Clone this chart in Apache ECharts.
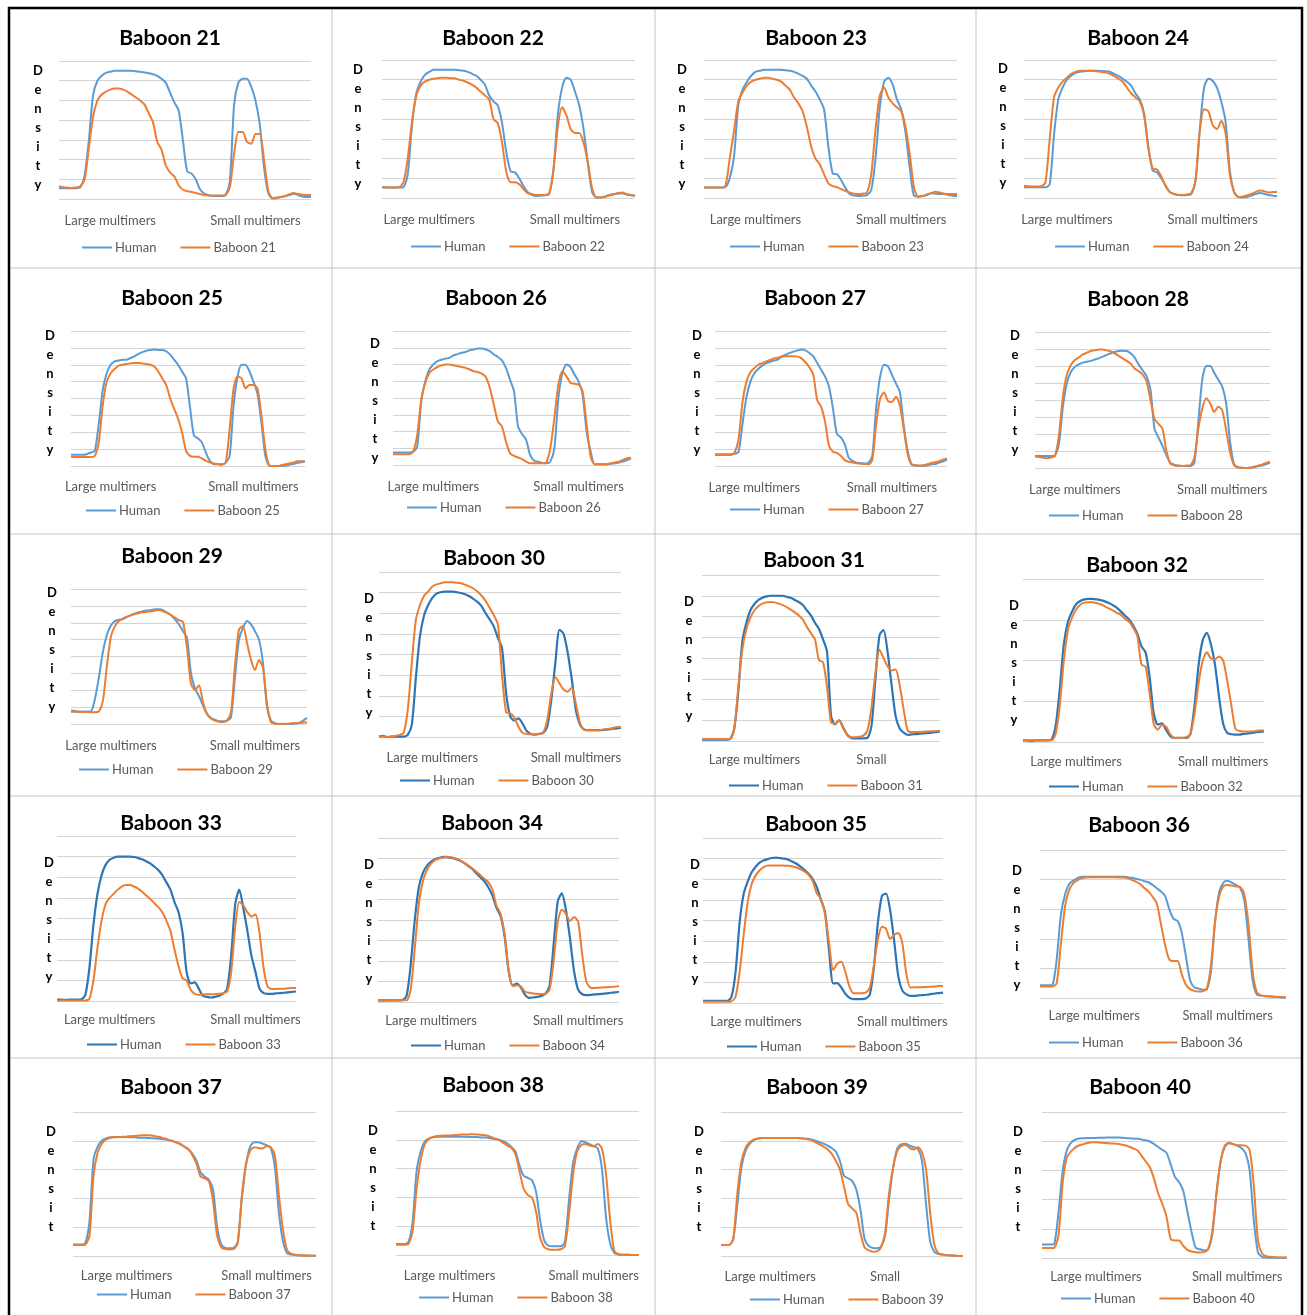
<!DOCTYPE html>
<html>
<head>
<meta charset="utf-8">
<title>Human vs baboon multimer density</title>
<script src="https://cdn.jsdelivr.net/npm/echarts@6.0.0/dist/echarts.min.js"></script>
<style>
  html, body { margin: 0; padding: 0; background: #fff; }
  #chart { width: 1307px; height: 1315px; }
</style>
</head>
<body>
<div id="chart"></div>
<script>
// density traces, 60 samples across each panel, in units of one gridline step
const human21 = [0.55,0.55,0.55,0.55,0.55,0.6,1.2,3.0,5.3,6.0, 6.25,6.4,6.45,6.5,6.5,6.5,6.5,6.5,6.48,6.45, 6.42,6.38,6.33,6.25,6.1,5.9,5.4,4.9,4.5,3.0, 1.4,1.3,1.0,0.5,0.28,0.2,0.15,0.15,0.15,0.2, 0.9,4.8,5.9,6.1,6.1,5.7,5.0,3.8,1.6,0.3, 0.02,0.05,0.1,0.15,0.2,0.27,0.2,0.13,0.1,0.1];
const baboon21 = [0.65,0.6,0.58,0.56,0.58,0.65,1.0,2.6,4.2,5.0, 5.3,5.45,5.55,5.6,5.6,5.55,5.45,5.3,5.15,5.0, 4.8,4.35,3.9,2.9,2.5,1.7,1.35,1.15,0.7,0.47, 0.4,0.36,0.3,0.25,0.2,0.18,0.18,0.18,0.18,0.2, 0.6,2.3,3.4,3.4,2.9,2.8,3.3,3.3,2.0,0.4, 0.05,0.08,0.1,0.15,0.25,0.3,0.25,0.22,0.2,0.2];
const human22 = [0.53,0.53,0.53,0.53,0.53,0.55,1.2,3.7,5.3,5.9, 6.25,6.4,6.5,6.5,6.5,6.5,6.5,6.5,6.48,6.45, 6.4,6.3,6.2,6.0,5.75,5.2,4.9,4.7,3.8,2.3, 1.35,1.3,1.0,0.6,0.3,0.15,0.1,0.12,0.14,0.2, 1.5,4.2,5.6,6.1,6.0,5.4,4.7,3.5,1.8,0.3, 0.03,0.03,0.08,0.15,0.2,0.22,0.24,0.18,0.14,0.1];
const baboon22 = [0.54,0.54,0.53,0.53,0.55,0.8,2.0,3.9,5.2,5.7, 5.9,6.0,6.05,6.08,6.1,6.1,6.08,6.07,6.0,5.95, 5.86,5.75,5.6,5.4,5.2,5.0,4.0,3.8,2.8,1.3, 0.8,0.8,0.7,0.45,0.25,0.2,0.15,0.15,0.15,0.25, 1.4,3.6,4.6,4.2,3.5,3.3,3.3,2.8,1.8,0.5, 0.02,0.02,0.05,0.12,0.18,0.25,0.28,0.2,0.15,0.12];
const human23 = [0.53,0.53,0.53,0.53,0.53,0.55,1.0,2.1,4.7,5.5, 5.9,6.2,6.4,6.45,6.5,6.5,6.5,6.5,6.5,6.48, 6.45,6.4,6.3,6.2,6.05,5.7,5.4,5.0,4.5,2.6, 1.25,1.2,0.9,0.5,0.2,0.12,0.1,0.12,0.15,0.4, 2.0,4.6,5.9,6.1,5.75,5.0,4.5,3.3,1.5,0.1, 0.08,0.1,0.18,0.24,0.22,0.2,0.2,0.15,0.12,0.1];
const baboon23 = [0.53,0.53,0.53,0.53,0.53,0.6,2.0,3.4,4.9,5.35, 5.7,5.9,6.0,6.05,6.1,6.1,6.05,6.0,5.9,5.7, 5.5,5.1,4.8,4.4,3.6,2.6,2.0,1.7,1.2,0.75, 0.6,0.55,0.45,0.35,0.28,0.22,0.2,0.22,0.27,1.2, 3.5,5.2,5.6,5.1,4.8,4.6,4.4,3.6,2.2,0.5, 0.05,0.1,0.15,0.25,0.32,0.28,0.22,0.2,0.2,0.2];
const human24 = [0.54,0.54,0.54,0.54,0.54,0.54,0.7,3.2,5.0,5.6, 6.0,6.2,6.35,6.4,6.43,6.45,6.45,6.45,6.44,6.43, 6.4,6.3,6.2,6.05,5.9,5.7,5.3,5.0,4.3,2.6, 1.4,1.3,1.0,0.65,0.3,0.2,0.15,0.14,0.15,0.2, 0.9,3.5,5.6,6.05,5.95,5.6,4.9,3.9,1.4,0.3, 0.05,0.03,0.05,0.12,0.2,0.25,0.22,0.15,0.12,0.1];
const baboon24 = [0.62,0.6,0.58,0.58,0.6,0.8,3.0,5.1,5.6,5.9, 6.1,6.3,6.4,6.45,6.45,6.45,6.45,6.43,6.4,6.36, 6.3,6.2,6.05,5.9,5.6,5.3,5.1,4.9,4.2,2.5, 1.5,1.45,1.1,0.6,0.3,0.2,0.15,0.15,0.18,0.24, 0.9,3.4,4.5,4.4,3.7,3.5,3.9,3.3,1.2,0.3, 0.05,0.08,0.14,0.2,0.3,0.38,0.35,0.28,0.3,0.31];
const human25 = [0.67,0.67,0.67,0.67,0.7,0.8,0.9,2.5,4.5,5.5, 6.0,6.2,6.25,6.3,6.3,6.4,6.5,6.65,6.75,6.83, 6.88,6.9,6.88,6.87,6.8,6.6,6.3,6.0,5.6,5.2, 3.5,1.8,1.65,1.4,0.8,0.3,0.12,0.1,0.08,0.2, 0.6,3.6,5.3,6.0,6.0,5.6,5.0,4.3,2.6,0.6, 0.02,0.0,0.0,0.0,0.03,0.08,0.12,0.18,0.22,0.28];
const baboon25 = [0.55,0.53,0.53,0.53,0.53,0.53,0.6,1.4,3.6,5.0, 5.5,5.75,5.95,6.0,6.05,6.08,6.1,6.1,6.08,6.05, 6.0,5.9,5.6,5.2,4.8,4.0,3.4,2.8,2.0,0.9, 0.6,0.55,0.55,0.45,0.3,0.22,0.15,0.12,0.1,0.2, 2.2,4.6,5.3,5.2,4.6,4.8,4.8,4.6,3.0,1.0, 0.04,0.0,0.0,0.04,0.1,0.15,0.2,0.28,0.28,0.28];
const human26 = [0.74,0.74,0.74,0.74,0.74,0.8,1.1,3.8,5.0,5.7, 6.0,6.2,6.28,6.35,6.4,6.55,6.62,6.7,6.75,6.85, 6.9,6.95,6.95,6.9,6.8,6.6,6.45,6.25,5.8,5.1, 4.4,2.3,1.85,1.5,0.6,0.25,0.2,0.12,0.1,0.2, 1.0,4.0,5.5,6.0,5.85,5.4,5.0,4.2,2.0,0.8, 0.04,0.04,0.04,0.05,0.08,0.1,0.15,0.2,0.3,0.4];
const baboon26 = [0.64,0.64,0.64,0.64,0.64,0.8,1.8,3.9,4.9,5.5, 5.7,5.85,5.95,6.0,6.0,5.95,5.9,5.85,5.8,5.7, 5.6,5.55,5.45,5.25,4.6,3.6,2.6,2.3,1.4,0.7, 0.55,0.45,0.35,0.2,0.1,0.1,0.1,0.1,0.15,1.0, 2.8,4.8,5.6,5.3,4.9,4.85,4.8,4.4,2.4,0.5, 0.04,0.04,0.04,0.05,0.1,0.15,0.2,0.3,0.4,0.44];
const human27 = [0.7,0.7,0.7,0.7,0.7,0.72,0.85,2.5,4.1,5.0, 5.5,5.75,5.95,6.1,6.18,6.25,6.3,6.5,6.6,6.7, 6.78,6.85,6.9,6.85,6.7,6.5,6.1,5.7,5.3,4.7, 3.4,1.9,1.7,1.3,0.5,0.3,0.2,0.18,0.15,0.2, 0.6,3.5,5.3,6.0,5.9,5.4,4.9,4.4,2.4,0.9, 0.1,0.05,0.02,0.02,0.05,0.1,0.12,0.2,0.28,0.36];
const baboon27 = [0.65,0.65,0.65,0.65,0.65,0.8,1.6,3.8,5.0,5.55, 5.8,6.0,6.1,6.2,6.28,6.38,6.42,6.48,6.5,6.5, 6.5,6.48,6.38,6.15,5.85,5.4,3.9,3.5,2.6,1.2, 0.85,0.78,0.6,0.35,0.25,0.2,0.16,0.14,0.12,0.1, 0.35,2.5,4.0,4.35,3.85,3.8,4.1,3.6,2.2,0.7, 0.08,0.02,0.02,0.04,0.1,0.18,0.22,0.28,0.38,0.45];
const human28 = [0.71,0.71,0.71,0.71,0.71,0.75,1.4,3.6,5.0,5.65, 5.95,6.1,6.2,6.25,6.3,6.38,6.45,6.55,6.65,6.75, 6.82,6.88,6.9,6.88,6.75,6.5,6.1,5.75,5.4,4.6, 2.3,1.8,1.3,0.75,0.3,0.2,0.15,0.12,0.12,0.12, 0.3,2.7,5.2,6.0,6.0,5.6,5.2,4.8,3.8,1.5, 0.2,0.05,0.02,0.0,0.02,0.05,0.1,0.15,0.22,0.3];
const baboon28 = [0.67,0.65,0.6,0.58,0.62,0.7,1.9,4.2,5.5,6.05, 6.35,6.5,6.68,6.78,6.88,6.92,6.97,6.97,6.92,6.85, 6.75,6.6,6.45,6.3,6.15,5.85,5.7,5.5,5.1,4.0, 2.9,2.6,2.3,1.0,0.25,0.15,0.12,0.12,0.14,0.16, 0.6,2.3,3.5,4.1,3.8,3.3,3.6,3.4,2.2,0.9, 0.15,0.02,0.0,0.0,0.02,0.08,0.14,0.2,0.3,0.37];
const human29 = [0.73,0.73,0.73,0.73,0.73,0.75,1.5,2.8,4.3,5.3, 5.85,6.1,6.18,6.22,6.35,6.45,6.55,6.62,6.68,6.72, 6.75,6.8,6.8,6.75,6.6,6.45,6.2,5.9,5.5,5.1, 3.0,2.1,1.65,1.1,0.6,0.35,0.25,0.16,0.16,0.2, 0.4,2.8,5.0,5.7,6.1,5.9,5.5,5.0,3.6,1.0, 0.2,0.05,0.0,0.0,0.0,0.0,0.03,0.06,0.2,0.36];
const baboon29 = [0.8,0.78,0.72,0.72,0.72,0.7,0.7,0.75,1.4,3.5, 5.2,5.8,6.1,6.25,6.35,6.45,6.52,6.58,6.62,6.65, 6.68,6.72,6.75,6.68,6.6,6.45,6.3,6.15,6.05,4.5, 2.4,2.0,2.3,1.3,0.6,0.32,0.2,0.13,0.12,0.2, 0.7,3.5,5.6,5.8,4.8,3.8,3.2,3.8,3.3,1.2, 0.1,0.02,0.0,0.02,0.02,0.04,0.06,0.06,0.08,0.1];
const human30 = [0.02,0.05,0.0,0.02,0.02,0.02,0.02,0.1,0.6,2.9, 4.9,5.9,6.4,6.75,6.95,7.02,7.05,7.05,7.05,7.02, 6.98,6.92,6.82,6.7,6.55,6.35,6.0,5.7,5.35,4.8, 4.3,2.1,1.0,0.8,0.9,0.65,0.3,0.15,0.12,0.15, 0.2,0.5,1.8,3.6,5.2,5.0,4.1,2.8,1.3,0.6, 0.37,0.33,0.33,0.33,0.33,0.35,0.37,0.4,0.42,0.45];
const baboon30 = [0.0,0.02,0.0,0.02,0.05,0.1,0.2,1.3,3.6,5.7, 6.4,6.85,7.05,7.3,7.4,7.45,7.5,7.5,7.5,7.48, 7.45,7.38,7.3,7.2,7.05,6.85,6.6,6.25,5.9,5.45, 3.0,1.2,1.15,0.95,0.5,0.2,0.14,0.13,0.13,0.15, 0.2,0.8,2.1,2.9,2.6,2.3,2.2,2.4,1.6,0.7, 0.35,0.33,0.33,0.33,0.33,0.38,0.4,0.44,0.48,0.5];
const human31 = [0.07,0.07,0.07,0.07,0.07,0.07,0.07,0.1,0.6,2.4, 4.8,5.7,6.3,6.6,6.8,6.9,6.97,7.0,7.0,7.0, 7.0,6.95,6.9,6.8,6.7,6.55,6.3,6.05,5.7,5.4, 4.9,4.3,1.2,0.8,1.0,0.65,0.3,0.15,0.13,0.13, 0.13,0.15,0.7,3.0,5.1,5.35,4.3,2.7,1.2,0.6, 0.4,0.3,0.32,0.33,0.35,0.37,0.38,0.4,0.43,0.46];
const baboon31 = [0.1,0.1,0.1,0.1,0.1,0.1,0.1,0.1,0.6,2.6, 4.4,5.4,5.95,6.3,6.5,6.62,6.68,6.7,6.68,6.62, 6.55,6.45,6.33,6.2,6.05,5.85,5.5,5.2,4.9,3.9, 3.8,2.6,0.9,0.84,1.0,0.6,0.3,0.18,0.18,0.2, 0.26,0.5,1.6,3.3,4.4,4.0,3.6,3.4,3.45,2.7, 1.5,0.5,0.43,0.43,0.44,0.45,0.46,0.47,0.48,0.5];
const human32 = [0.04,0.04,0.03,0.04,0.04,0.04,0.04,0.06,0.4,1.3, 2.4,2.95,3.2,3.38,3.46,3.5,3.51,3.51,3.5,3.48, 3.45,3.41,3.36,3.29,3.2,3.1,3.0,2.85,2.65,2.35, 2.2,1.6,0.7,0.43,0.46,0.3,0.15,0.1,0.1,0.1, 0.1,0.2,0.9,1.9,2.5,2.68,2.4,1.9,1.1,0.45, 0.22,0.19,0.18,0.18,0.2,0.21,0.22,0.24,0.25,0.26];
const baboon32 = [0.04,0.04,0.04,0.04,0.04,0.04,0.04,0.04,0.2,0.9, 2.0,2.75,3.05,3.25,3.37,3.42,3.43,3.43,3.41,3.38, 3.33,3.28,3.23,3.17,3.12,3.02,2.95,2.8,2.6,1.9, 1.85,1.2,0.45,0.3,0.42,0.38,0.2,0.1,0.1,0.1, 0.12,0.2,0.7,1.45,2.0,2.2,2.05,2.03,2.1,2.0, 1.5,0.9,0.32,0.27,0.26,0.26,0.26,0.27,0.28,0.28];
const human33 = [0.07,0.07,0.05,0.07,0.07,0.07,0.08,0.3,1.6,3.7, 5.2,6.1,6.6,6.85,6.95,7.0,7.0,7.0,7.0,6.98, 6.93,6.87,6.78,6.67,6.52,6.35,6.1,5.75,5.4,4.8, 4.3,3.3,1.4,0.85,0.9,0.6,0.25,0.2,0.17,0.2, 0.25,0.35,0.6,2.2,4.7,5.4,4.5,3.4,2.2,1.4, 0.6,0.38,0.35,0.35,0.37,0.38,0.4,0.42,0.44,0.46];
const baboon33 = [0.03,0.03,0.03,0.03,0.03,0.03,0.03,0.03,0.1,1.0, 2.6,3.9,4.7,5.0,5.2,5.4,5.55,5.62,5.62,5.55, 5.45,5.3,5.12,4.95,4.75,4.55,4.3,3.9,3.4,2.5, 1.7,1.1,1.0,0.55,0.35,0.3,0.32,0.33,0.33,0.33, 0.35,0.38,0.45,1.4,3.6,4.8,4.65,4.3,4.1,4.2, 3.3,1.6,0.7,0.58,0.58,0.6,0.6,0.62,0.63,0.63];
const human34 = [0.08,0.08,0.08,0.08,0.08,0.08,0.1,0.3,1.8,4.0, 5.6,6.3,6.65,6.85,6.96,7.03,7.08,7.07,7.03,6.98, 6.9,6.8,6.65,6.5,6.3,6.1,5.9,5.6,5.2,4.6, 4.2,3.2,1.5,0.8,0.9,0.7,0.35,0.2,0.22,0.25, 0.3,0.4,0.8,2.8,4.9,5.3,4.5,3.1,1.5,0.6, 0.38,0.34,0.35,0.37,0.38,0.4,0.42,0.45,0.47,0.5];
const baboon34 = [0.08,0.06,0.08,0.08,0.08,0.08,0.08,0.08,0.6,2.6, 4.8,5.9,6.45,6.75,6.92,7.0,7.05,7.08,7.06,7.0, 6.92,6.8,6.68,6.53,6.38,6.2,6.02,5.85,5.5,4.7, 4.3,3.3,1.5,0.78,0.82,0.75,0.5,0.45,0.42,0.4, 0.39,0.4,0.6,2.0,3.9,4.5,4.3,3.95,4.15,3.9, 2.3,1.0,0.7,0.68,0.7,0.71,0.72,0.73,0.75,0.78];
const human35 = [0.1,0.1,0.1,0.1,0.1,0.1,0.1,0.3,1.5,3.9, 5.3,5.9,6.35,6.62,6.82,6.92,6.98,7.03,7.05,7.02, 7.0,6.95,6.85,6.75,6.6,6.45,6.25,6.0,5.6,5.0, 4.4,2.5,0.95,0.96,0.75,0.45,0.25,0.19,0.19,0.19, 0.22,0.4,1.7,3.9,5.2,5.3,4.5,3.0,1.3,0.6, 0.42,0.35,0.35,0.37,0.38,0.4,0.43,0.46,0.48,0.5];
const baboon35 = [0.06,0.06,0.06,0.06,0.06,0.06,0.06,0.08,0.3,1.5, 3.3,4.9,5.8,6.2,6.45,6.6,6.67,6.67,6.67,6.67, 6.66,6.65,6.62,6.57,6.48,6.37,6.2,5.9,5.3,5.05, 4.3,2.9,1.6,1.9,2.0,1.5,0.8,0.47,0.47,0.47, 0.5,0.75,1.8,3.1,3.7,3.6,3.1,3.3,3.4,2.9, 1.4,0.75,0.76,0.76,0.77,0.78,0.79,0.8,0.82,0.83];
const human36 = [0.43,0.43,0.43,0.45,1.3,2.8,3.5,3.85,3.97,4.05, 4.1,4.1,4.1,4.1,4.1,4.1,4.1,4.1,4.1,4.1, 4.1,4.08,4.06,4.03,4.0,3.95,3.91,3.82,3.71,3.6, 3.45,3.0,2.68,2.6,2.2,1.4,0.6,0.36,0.32,0.28, 0.3,0.9,2.6,3.6,3.9,3.96,3.9,3.82,3.72,3.3, 2.0,0.6,0.12,0.08,0.06,0.05,0.04,0.03,0.02,0.02];
const baboon36 = [0.39,0.39,0.39,0.39,0.5,1.8,3.1,3.65,3.88,3.98, 4.04,4.07,4.08,4.08,4.08,4.08,4.08,4.08,4.08,4.07, 4.07,4.05,3.99,3.93,3.85,3.72,3.6,3.42,3.2,2.5, 1.8,1.3,1.25,1.25,0.8,0.45,0.3,0.24,0.22,0.23, 0.3,1.1,2.6,3.45,3.78,3.82,3.8,3.77,3.75,3.5, 2.5,0.9,0.2,0.09,0.07,0.06,0.05,0.04,0.03,0.02];
const human37 = [0.4,0.4,0.4,0.45,1.2,3.38,3.8,4.0,4.08,4.12, 4.13,4.13,4.13,4.13,4.12,4.12,4.11,4.11,4.1,4.09, 4.08,4.07,4.05,4.03,4.0,3.95,3.9,3.8,3.7,3.55, 3.3,2.9,2.75,2.65,2.3,1.0,0.4,0.28,0.27,0.28, 0.5,2.0,3.15,3.8,3.95,3.95,3.9,3.85,3.75,3.1, 1.5,0.5,0.1,0.05,0.03,0.02,0.02,0.01,0.01,0.01];
const baboon37 = [0.38,0.38,0.38,0.4,0.7,2.8,3.6,3.9,4.05,4.1, 4.12,4.13,4.14,4.15,4.16,4.17,4.18,4.19,4.19,4.18, 4.16,4.13,4.09,4.05,4.0,3.95,3.88,3.8,3.72,3.5, 3.2,2.75,2.7,2.6,1.9,0.7,0.3,0.24,0.23,0.24, 0.45,2.1,3.2,3.65,3.78,3.75,3.73,3.82,3.78,3.5, 2.1,0.9,0.2,0.08,0.04,0.03,0.02,0.02,0.01,0.01];
const human38 = [0.38,0.38,0.38,0.45,1.1,2.9,3.6,3.95,4.05,4.09, 4.11,4.11,4.11,4.11,4.11,4.11,4.11,4.11,4.1,4.1, 4.09,4.08,4.08,4.05,4.03,4.0,3.95,3.88,3.75,3.6, 3.1,2.75,2.68,2.6,2.2,1.2,0.5,0.32,0.3,0.3, 0.3,0.45,1.9,3.2,3.7,3.95,3.92,3.85,3.78,3.7, 3.0,1.3,0.4,0.07,0.02,0.01,0.01,0.0,0.0,0.0];
const baboon38 = [0.36,0.36,0.36,0.38,0.8,2.3,3.3,3.85,4.03,4.1, 4.13,4.14,4.15,4.15,4.16,4.17,4.18,4.18,4.19,4.19, 4.18,4.17,4.15,4.1,4.05,4.0,3.9,3.8,3.72,3.5, 2.9,2.3,2.08,2.0,1.5,0.6,0.27,0.2,0.18,0.18, 0.2,0.3,1.4,2.8,3.6,3.82,3.85,3.8,3.78,3.85, 3.7,2.8,1.2,0.15,0.03,0.01,0.01,0.0,0.0,0.0];
const human39 = [0.38,0.38,0.38,0.6,1.8,3.1,3.65,3.9,4.02,4.08, 4.1,4.1,4.1,4.1,4.1,4.1,4.1,4.1,4.1,4.09, 4.08,4.07,4.05,4.0,3.95,3.9,3.83,3.75,3.62,3.3, 2.78,2.7,2.6,2.3,1.6,0.6,0.35,0.28,0.27,0.33, 0.7,2.0,3.1,3.75,3.88,3.9,3.83,3.78,3.72,3.3, 1.8,0.5,0.15,0.07,0.05,0.03,0.02,0.01,0.0,0.0];
const baboon39 = [0.38,0.38,0.38,0.6,2.2,3.3,3.75,3.95,4.04,4.08, 4.1,4.1,4.1,4.1,4.1,4.1,4.1,4.1,4.1,4.1, 4.08,4.05,4.02,3.95,3.88,3.8,3.7,3.55,3.3,3.0, 2.4,1.8,1.65,1.5,0.8,0.3,0.2,0.15,0.16,0.3, 0.8,2.2,3.1,3.65,3.82,3.85,3.75,3.7,3.78,3.6, 3.0,1.5,0.4,0.09,0.05,0.03,0.02,0.01,0.0,0.0];
const human40 = [0.46,0.46,0.46,0.5,1.6,3.0,3.7,3.95,4.05,4.09, 4.1,4.11,4.11,4.11,4.12,4.12,4.13,4.13,4.13,4.12, 4.11,4.1,4.09,4.08,4.06,4.03,3.99,3.9,3.8,3.7, 3.6,3.2,2.78,2.6,2.3,1.6,0.9,0.35,0.3,0.26, 0.3,0.8,2.2,3.3,3.8,3.93,3.9,3.85,3.77,3.6, 3.0,1.3,0.2,0.04,0.02,0.01,0.01,0.01,0.01,0.01];
const baboon40 = [0.34,0.34,0.34,0.36,0.8,2.6,3.45,3.65,3.78,3.86, 3.9,3.94,3.96,3.96,3.95,3.94,3.93,3.92,3.91,3.89, 3.86,3.81,3.75,3.68,3.5,3.3,3.1,2.7,2.2,1.85, 1.4,0.65,0.6,0.6,0.42,0.28,0.22,0.2,0.19,0.2, 0.3,0.9,2.2,3.3,3.85,3.95,3.9,3.86,3.86,3.85, 3.7,2.5,0.6,0.15,0.06,0.04,0.03,0.02,0.02,0.02];

const panelIds = [21,22,23,24,25,26,27,28,29,30,31,32,33,34,35,36,37,38,39,40];
const humanSeries = [human21,human22,human23,human24,human25,human26,human27,human28,human29,human30,
                     human31,human32,human33,human34,human35,human36,human37,human38,human39,human40];
const baboonSeries = [baboon21,baboon22,baboon23,baboon24,baboon25,baboon26,baboon27,baboon28,baboon29,baboon30,
                      baboon31,baboon32,baboon33,baboon34,baboon35,baboon36,baboon37,baboon38,baboon39,baboon40];
// number of gridline steps on each y axis
const gridSteps = [7,7,7,7, 8,8,8,8, 8,8,8,4, 8,8,8,5, 5,5,5,5];
// x tick labels and the sample index where each one sits
const tickLabels = ['Large multimers', 'Small multimers'];
const tickLabelsShort = ['Large multimers', 'Small'];
const tickIndex = [[12,46],[11,45],[12,46],[10,44], [10,46],[10,46],[10,45],[10,47],
                   [10,46],[13,48],[13,42],[13,49], [13,49],[13,49],[13,49],[13,45],
                   [13,47],[13,48],[12,40],[13,47]];
const shortLabelPanels = [31, 39];
const sampleCount = 60;

// page layout (px): plot box [left, top, right, bottom], title centre, "Density" x / first letter y,
// legend start, label offset under the axis
const layout = {
  21: { plot: [59,61,311,199],    title: [170,37],   dens: [38,71],    legend: [82,248],    gap: 15 },
  22: { plot: [382,60,635,198],   title: [493,37],   dens: [358,70],   legend: [411,247],   gap: 15.5 },
  23: { plot: [704,60,957,198],   title: [816,37],   dens: [682,70],   legend: [730,247],   gap: 15.5 },
  24: { plot: [1024,60,1277,198], title: [1138,37],  dens: [1003,69],  legend: [1055,247],  gap: 15.5 },
  25: { plot: [71,331,305,466],   title: [172,297],  dens: [50,336],   legend: [86,511],    gap: 14 },
  26: { plot: [393,331,631,465],  title: [496,297],  dens: [375,344],  legend: [407,508],   gap: 15 },
  27: { plot: [715,331,947,466],  title: [815,297],  dens: [697,336],  legend: [730,510],   gap: 15.5 },
  28: { plot: [1035,332,1270,468],title: [1138,298], dens: [1015,336], legend: [1049,516],  gap: 15 },
  29: { plot: [71,589,307,724],   title: [172,555],  dens: [52,593],   legend: [79,770],    gap: 15 },
  30: { plot: [379,572,621,737],  title: [494,557],  dens: [369,599],  legend: [400,781],   gap: 14 },
  31: { plot: [702,575,940,741],  title: [814,559],  dens: [689,602],  legend: [729,786],   gap: 12.5 },
  32: { plot: [1023,579,1264,742],title: [1137,564], dens: [1014,606], legend: [1049,787],  gap: 13 },
  33: { plot: [57,836,296,1001],  title: [171,822],  dens: [49,863],   legend: [87,1045],   gap: 12 },
  34: { plot: [378,838,619,1002], title: [492,822],  dens: [369,865],  legend: [411,1046],  gap: 12.5 },
  35: { plot: [703,838,943,1003], title: [816,823],  dens: [695,865],  legend: [727,1047],  gap: 12 },
  36: { plot: [1040,850,1286,998],title: [1139,824], dens: [1017,871], legend: [1049,1043], gap: 11.5 },
  37: { plot: [73,1112,316,1256], title: [171,1086], dens: [51,1132],  legend: [97,1295],   gap: 13 },
  38: { plot: [396,1111,639,1255],title: [493,1084], dens: [373,1131], legend: [419,1298],  gap: 14 },
  39: { plot: [721,1112,963,1256],title: [817,1086], dens: [699,1132], legend: [750,1300],  gap: 14 },
  40: { plot: [1042,1112,1287,1258],title: [1140,1086],dens: [1018,1132],legend: [1061,1299],gap: 12 }
};

const humanLight = '#5B9BD5';
const humanDark = '#2E75B6';
const baboonColor = '#ED7D31';
const darkPanels = [30,31,32,33,34,35];
const fontFamily = 'Lato, "Open Sans", sans-serif';

const titles = [], grids = [], xAxes = [], yAxes = [], legends = [], series = [], graphics = [];

panelIds.forEach((id, i) => {
  const L = layout[id];
  const [x0, y0, x1, y1] = L.plot;
  const labels = shortLabelPanels.includes(id) ? tickLabelsShort : tickLabels;
  const [ia, ib] = tickIndex[i];
  const categories = Array.from({ length: sampleCount }, (_, k) => k === ia ? labels[0] : (k === ib ? labels[1] : ''));
  const humanColor = darkPanels.includes(id) ? humanDark : humanLight;
  const baboonName = 'Baboon ' + id;

  titles.push({
    text: baboonName,
    left: L.title[0],
    top: L.title[1] - 9,
    padding: 0,
    textAlign: 'center',
    textVerticalAlign: 'top',
    textStyle: { fontFamily, fontSize: 21, fontWeight: 'bold', color: '#000' }
  });

  grids.push({ left: x0, top: y0, width: x1 - x0, height: y1 - y0, containLabel: false });

  xAxes.push({
    type: 'category',
    gridIndex: i,
    boundaryGap: false,
    data: categories,
    axisLine: { show: false },
    axisTick: { show: false },
    axisLabel: { interval: 0, margin: L.gap, color: '#595959', fontFamily, fontSize: 13 },
    splitLine: { show: false }
  });

  yAxes.push({
    type: 'value',
    gridIndex: i,
    min: 0,
    max: gridSteps[i],
    interval: 1,
    axisLine: { show: false },
    axisTick: { show: false },
    axisLabel: { show: false },
    splitLine: { lineStyle: { color: '#D4D4D4', width: 1 } }
  });

  legends.push({
    left: L.legend[0],
    top: L.legend[1] - 7,
    padding: 0,
    itemGap: 24,
    itemWidth: 30,
    itemHeight: 2,
    icon: 'rect',
    selectedMode: false,
    textStyle: { fontFamily, fontSize: 13, color: '#595959', padding: [0, 0, 0, -2] },
    data: [
      { name: 'Human', itemStyle: { color: humanColor } },
      { name: baboonName, itemStyle: { color: baboonColor } }
    ]
  });

  series.push({
    name: 'Human', type: 'line', xAxisIndex: i, yAxisIndex: i,
    data: humanSeries[i], symbol: 'none', smooth: 0.25,
    color: humanColor,
    lineStyle: { color: humanColor, width: darkPanels.includes(id) ? 2.2 : 2 }
  });
  series.push({
    name: baboonName, type: 'line', xAxisIndex: i, yAxisIndex: i,
    data: baboonSeries[i], symbol: 'none', smooth: 0.25,
    color: baboonColor,
    lineStyle: { color: baboonColor, width: 2 }
  });

  // stacked "Density" axis caption
  const word = id >= 37 ? 'Densit' : 'Density';
  graphics.push({
    type: 'text',
    x: L.dens[0],
    y: L.dens[1] - 9.5,
    style: {
      text: word.split('').join('\n'),
      fontFamily,
      fontSize: 13,
      fontWeight: 'bold',
      fill: '#000',
      align: 'center',
      lineHeight: 19
    }
  });
});

// cell borders and outer frame
[332, 655, 976].forEach(x => {
  graphics.push({ type: 'line', shape: { x1: x, y1: 9, x2: x, y2: 1315 }, style: { stroke: '#C4C4C4', lineWidth: 1 } });
});
[268, 534, 796, 1058].forEach(y => {
  graphics.push({ type: 'line', shape: { x1: 10, y1: y, x2: 1302, y2: y }, style: { stroke: '#C4C4C4', lineWidth: 1 } });
});
graphics.push({
  type: 'rect',
  shape: { x: 9, y: 8, width: 1293, height: 1330 },
  style: { fill: 'none', stroke: '#000', lineWidth: 2.5 }
});

const chart = echarts.init(document.getElementById('chart'));
chart.setOption({
  backgroundColor: '#fff',
  animation: false,
  title: titles,
  grid: grids,
  xAxis: xAxes,
  yAxis: yAxes,
  legend: legends,
  series: series,
  graphic: graphics
});
</script>
</body>
</html>
